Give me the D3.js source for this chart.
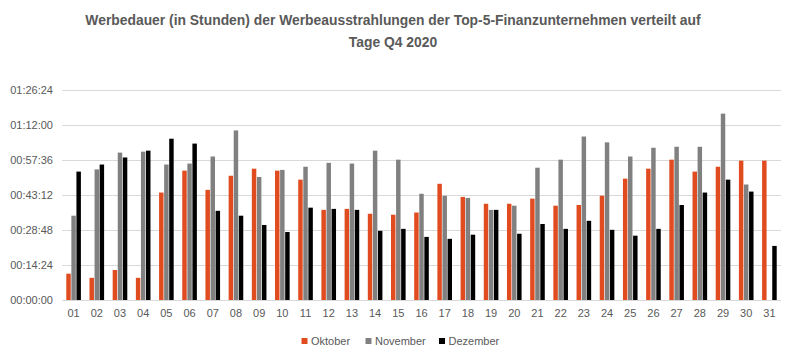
<!DOCTYPE html>
<html lang="de">
<head>
<meta charset="UTF-8">
<title>Werbedauer Q4 2020</title>
<script src="https://d3js.org/d3.v7.min.js"></script>
<style>
  body { margin: 0; background: #fff; }
  svg { display: block; font-family: "Liberation Sans", Arial, sans-serif; }
  .tick text { fill: #595959; font-size: 11px; }
</style>
</head>
<body>
<svg id="chart" width="796" height="362"></svg>
<script>
// Tage 01..31
const days = d3.range(1, 32).map(d => String(d).padStart(2, "0"));
const seriesNames = ["Oktober", "November", "Dezember"];
const seriesColors = ["#E04B20", "#808080", "#000000"];

// Werbedauer in Minuten
const oktober = [10.8, 9.1, 12.3, 9.1, 44.1, 53.1, 45.2, 51.0, 53.9, 53.1,
  49.4, 37.0, 37.4, 35.4, 35.0, 35.9, 47.7, 42.3, 39.5, 39.5,
  41.6, 38.7, 39.0, 42.8, 49.8, 53.9, 57.6, 52.7, 54.7, 57.2, 57.2];
const november = [34.6, 53.6, 60.5, 60.9, 55.6, 56.0, 58.9, 69.6, 50.5, 53.4,
  54.7, 56.3, 56.0, 61.3, 57.6, 43.6, 42.8, 41.9, 37.0, 38.7,
  54.3, 57.6, 67.1, 64.7, 58.9, 62.5, 62.9, 62.9, 76.5, 47.4, null];
const dezember = [52.7, 55.6, 58.5, 61.3, 66.2, 64.2, 36.6, 34.6, 30.8, 27.9,
  37.9, 37.4, 37.0, 28.4, 29.2, 25.9, 25.1, 26.8, 37.0, 27.2,
  31.2, 29.2, 32.5, 28.8, 26.4, 29.2, 39.0, 44.1, 49.4, 44.5, 22.2];

// Achsenticks in Sekunden (Schritt 14:24)
const yTicks = [0, 864, 1728, 2592, 3456, 4320, 5184];

const series = [oktober, november, dezember];

const svg = d3.select("#chart");
const m = { left: 62, right: 781, top: 89.5, bottom: 300 };

const x0 = d3.scaleBand().domain(days).range([m.left, m.right])
  .paddingInner(0.37).paddingOuter(0.185);
const x1 = d3.scaleBand().domain(seriesNames).range([0, x0.bandwidth()])
  .paddingInner(0.12);
const y = d3.scaleLinear().domain([0, 5184]).range([m.bottom, m.top]);

const fmt = s => {
  const h = Math.floor(s / 3600), mi = Math.floor((s % 3600) / 60), se = Math.round(s % 60);
  return [h, mi, se].map(v => String(v).padStart(2, "0")).join(":");
};

// Gitterlinien
svg.append("g").selectAll("line").data(yTicks).join("line")
  .attr("x1", m.left).attr("x2", m.right)
  .attr("y1", d => Math.round(y(d)) + 0.5).attr("y2", d => Math.round(y(d)) + 0.5)
  .attr("stroke", "#D9D9D9").attr("stroke-width", 1);

// y-Achse
const yAxis = svg.append("g").attr("transform", `translate(${m.left - 9},0)`)
  .call(d3.axisLeft(y).tickValues(yTicks).tickFormat(fmt).tickSize(0).tickPadding(0));
yAxis.select(".domain").remove();
yAxis.selectAll("text").attr("dy", "0.35em");

// x-Achse
const xAxis = svg.append("g").attr("transform", `translate(0,${m.bottom + 9})`)
  .call(d3.axisBottom(x0).tickSize(0).tickPadding(0));
xAxis.select(".domain").remove();
xAxis.selectAll("text").attr("dy", "0.75em");

// Balken
const groups = svg.append("g").selectAll("g").data(days).join("g")
  .attr("transform", d => `translate(${x0(d)},0)`);
groups.selectAll("rect")
  .data((d, i) => seriesNames.map((s, k) => ({ s, k, v: series[k][i] })).filter(e => e.v != null))
  .join("rect")
  .attr("x", e => x1(e.s))
  .attr("width", x1.bandwidth())
  .attr("y", e => y(e.v * 60))
  .attr("height", e => y(0) - y(e.v * 60))
  .attr("fill", e => seriesColors[e.k]);

// Titel
const title = svg.append("text").attr("text-anchor", "middle")
  .attr("font-weight", "bold").attr("fill", "#595959");
const t1 = title.append("tspan").attr("x", 393).attr("y", 25)
  .text("Werbedauer (in Stunden) der Werbeausstrahlungen der Top-5-Finanzunternehmen verteilt auf");
title.append("tspan").attr("x", 393).attr("y", 47).text("Tage Q4 2020");
title.attr("font-size", 14);
const w = t1.node().getComputedTextLength();
title.attr("font-size", 14 * 616 / w);

// Legende
const legendX = [301.5, 365.5, 439];
const legend = svg.append("g").selectAll("g").data(seriesNames).join("g")
  .attr("transform", (d, i) => `translate(${legendX[i]},341)`);
legend.append("rect").attr("x", 0).attr("y", -3).attr("width", 6).attr("height", 6)
  .attr("fill", (d, i) => seriesColors[i]);
legend.append("text").attr("x", 9.5).attr("dy", "0.35em")
  .attr("font-size", 11).attr("fill", "#595959").text(d => d);
</script>
</body>
</html>
